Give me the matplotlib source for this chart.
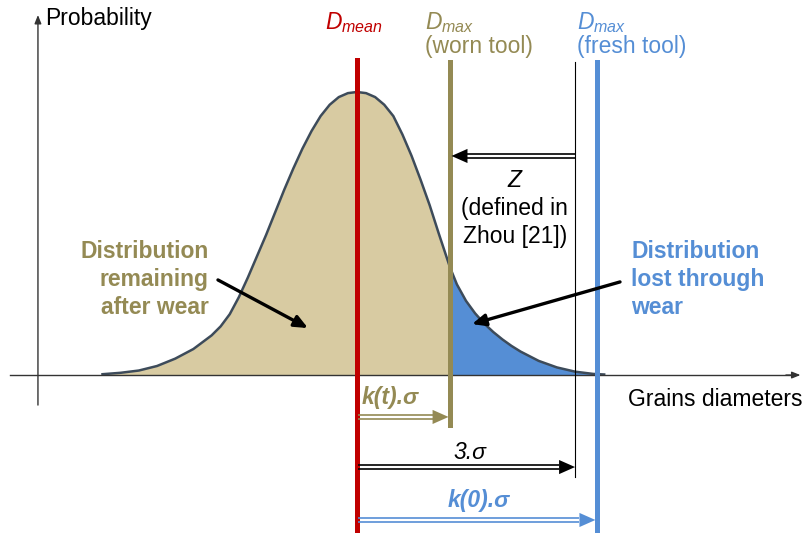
import numpy as np
import matplotlib.pyplot as plt

plt.rcParams['font.family'] = ['Liberation Sans', 'DejaVu Sans']
plt.rcParams['mathtext.fontset'] = 'custom'
plt.rcParams['mathtext.rm'] = 'Liberation Sans'
plt.rcParams['mathtext.it'] = 'Liberation Sans:italic'

# grain diameter (in sigma units, Dmean = 0) and relative probability
diam = [-3.5, -3.25, -3.0, -2.75, -2.5, -2.25, -2.0, -1.875, -1.75, -1.625, -1.5, -1.375, -1.25,
        -1.125, -1.0, -0.875, -0.75, -0.625, -0.5, -0.375, -0.25, -0.125, 0.0,
        0.125, 0.25, 0.375, 0.5, 0.625, 0.75, 0.875, 1.0, 1.125, 1.28, 1.375, 1.5, 1.625,
        1.75, 1.875, 2.0, 2.125, 2.25, 2.5, 2.75, 3.0, 3.25, 3.4]
prob = [0.003, 0.008, 0.016, 0.032, 0.058, 0.092, 0.140, 0.172, 0.215, 0.275, 0.345, 0.420, 0.495,
        0.575, 0.655, 0.730, 0.800, 0.862, 0.915, 0.955, 0.982, 0.996, 1.0,
        0.996, 0.982, 0.955, 0.915, 0.850, 0.775, 0.690, 0.600, 0.500, 0.380, 0.320, 0.262, 0.218,
        0.182, 0.152, 0.126, 0.103, 0.083, 0.050, 0.027, 0.012, 0.004, 0.002]

d_mean = 0.0
k_t = 1.28      # worn tool Dmax
three_sigma = 3.0
k_0 = 3.3       # fresh tool Dmax

RED = '#C00000'
OLIVE = '#948A54'
BLUE = '#558ED5'
TAN = '#D8CBA2'

diam = np.array(diam)
prob = np.array(prob)

fig = plt.figure(figsize=(8.07, 5.33), dpi=100)
ax = fig.add_axes([0, 0, 1, 1])
ax.set_xlim(-4.91, 6.19)
ax.set_ylim(-0.558, 1.325)
ax.axis('off')

FS = 16.5

# distribution, split at worn Dmax
left = diam <= k_t
right = diam >= k_t
ax.fill_between(diam[left], 0, prob[left], color=TAN, lw=0, zorder=1)
ax.fill_between(diam[right], 0, prob[right], color=BLUE, lw=0, zorder=1)
ax.plot(diam, prob, color='#3D4B5A', lw=1.8, zorder=2, solid_joinstyle='round')

# axes
ax.plot([-4.77, 6.0], [0, 0], color='#333333', lw=1.0, zorder=3)
ax.annotate('', xy=(6.1, 0), xytext=(5.9, 0),
            arrowprops=dict(arrowstyle='-|>,head_length=0.5,head_width=0.2', color='#333333', lw=1, shrinkA=0, shrinkB=0))
ax.annotate('', xy=(-4.388, 1.272), xytext=(-4.388, -0.106),
            arrowprops=dict(arrowstyle='-|>,head_length=0.5,head_width=0.2', color='#333333', lw=1, shrinkA=0, shrinkB=0))
ax.text(-4.29, 1.261, 'Probability', fontsize=FS, ha='left', va='center')
ax.text(3.73, -0.088, 'Grains diameters', fontsize=FS, ha='left', va='center')

# vertical markers
ax.plot([d_mean, d_mean], [-0.6, 1.113], color=RED, lw=3.6, zorder=4)
ax.plot([k_t, k_t], [-0.177, 1.106], color=OLIVE, lw=3.6, zorder=4)
ax.plot([three_sigma, three_sigma], [-0.36, 1.106], color='black', lw=0.8, zorder=4)
ax.plot([k_0, k_0], [-0.6, 1.106], color=BLUE, lw=3.6, zorder=4)

ax.text(d_mean - 0.44, 1.247, r'$D_{mean}$', color=RED, fontsize=FS, ha='left', va='center')
ax.text(k_t - 0.345, 1.247, r'$D_{max}$', color=OLIVE, fontsize=FS, ha='left', va='center')
ax.text(k_t - 0.345, 1.159, '(worn tool)', color=OLIVE, fontsize=FS, ha='left', va='center')
ax.text(k_0 - 0.274, 1.247, r'$D_{max}$', color=BLUE, fontsize=FS, ha='left', va='center')
ax.text(k_0 - 0.274, 1.159, '(fresh tool)', color=BLUE, fontsize=FS, ha='left', va='center')


def double_arrow(x0, x1, y, color):
    # hollow shaft (two thin lines) and a filled head
    d = 1 if x1 > x0 else -1
    head = 0.22 * d
    gap = 0.008
    for off in (-gap, gap):
        ax.plot([x0, x1 - head], [y + off, y + off], color=color, lw=1.2, zorder=5,
                solid_capstyle='butt')
    ax.fill([x1 - head, x1, x1 - head], [y - 0.025, y, y + 0.025], color=color, lw=0, zorder=5)


double_arrow(three_sigma, k_t + 0.02, 0.774, 'black')
ax.text(2.17, 0.689, 'Z', fontsize=FS, style='italic', ha='center', va='center')
ax.text(2.17, 0.590, '(defined in', fontsize=FS, ha='center', va='center')
ax.text(2.17, 0.491, 'Zhou [21])', fontsize=FS, ha='center', va='center')

double_arrow(d_mean + 0.02, k_t - 0.02, -0.148, OLIVE)
ax.text(0.06, -0.078, 'k(t).σ', color=OLIVE, fontsize=FS, style='italic', weight='bold', ha='left', va='center')
double_arrow(d_mean + 0.02, three_sigma, -0.325, 'black')
ax.text(1.55, -0.272, '3.σ', fontsize=FS, style='italic', ha='center', va='center')
double_arrow(d_mean + 0.02, k_0 - 0.02, -0.512, BLUE)
ax.text(1.67, -0.442, 'k(0).σ', color=BLUE, fontsize=FS, style='italic', weight='bold', ha='center', va='center')

# region labels
for i, line in enumerate(['Distribution', 'remaining', 'after wear']):
    ax.text(-2.036, 0.438 - 0.099 * i, line, color=OLIVE, fontsize=FS, weight='bold', ha='right', va='center')
for i, line in enumerate(['Distribution', 'lost through', 'wear']):
    ax.text(3.77, 0.438 - 0.099 * i, line, color=BLUE, fontsize=FS, weight='bold', ha='left', va='center')

ax.annotate('', xy=(-0.674, 0.166), xytext=(-1.912, 0.336),
            arrowprops=dict(arrowstyle='-|>,head_length=0.8,head_width=0.35', color='black', lw=2.4,
                            shrinkA=0, shrinkB=0), zorder=6)
ax.annotate('', xy=(1.582, 0.180), xytext=(3.618, 0.329),
            arrowprops=dict(arrowstyle='-|>,head_length=0.8,head_width=0.35', color='black', lw=2.4,
                            shrinkA=0, shrinkB=0), zorder=6)

fig.savefig('out.png', dpi=100)
